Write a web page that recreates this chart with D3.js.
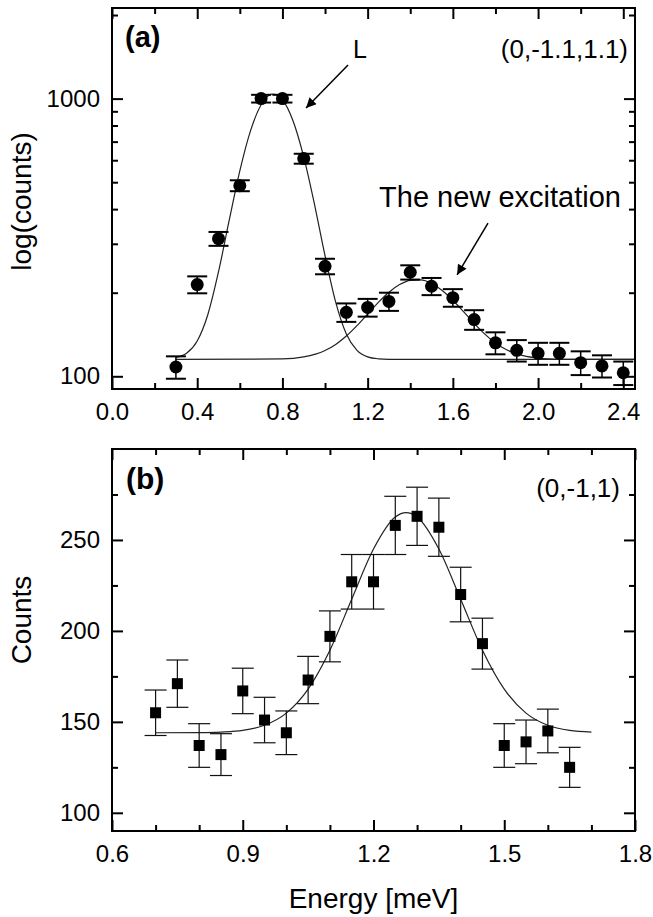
<!DOCTYPE html>
<html><head><meta charset="utf-8">
<script src="https://cdn.jsdelivr.net/npm/d3@7"></script>
<style>body{margin:0;background:#fff} svg text{font-family:"Liberation Sans",Arial,Helvetica,sans-serif;fill:#000}</style>
</head><body><svg id="c" width="653" height="917"></svg>
<script>
// ---------- Panel (a) data ----------
const energyA = [0.3,0.4,0.5,0.6,0.7,0.8,0.9,1.0,1.1,1.2,1.3,1.4,1.5,1.6,1.7,1.8,1.9,2.0,2.1,2.2,2.3,2.4];
const countsA = [108,214,313,486,1000,1000,608,249,170,177,186,237,211,192,160,132,124,121,121,112,109,103];
const errA    = [10,15,18,22,32,32,25,16,13,13,14,14,15,14,13,12,11,11,11,11,10,10];
// fit curve L
const fitLx = [0.30,0.35,0.40,0.45,0.50,0.55,0.60,0.65,0.70,0.725,0.75,0.775,0.80,0.85,0.90,0.95,1.00,1.05,1.10,1.15,1.20,1.25,1.30,1.40,2.45];
const fitLy = [117,121,134,167,238,364,549,765,950,1010,1038,1032,992,831,617,418,272,185,142,124,117.5,115.6,115.1,115,115];
// fit curve of the new excitation
const fitNx = [0.30,0.80,0.90,1.00,1.05,1.10,1.15,1.20,1.25,1.30,1.35,1.40,1.45,1.50,1.55,1.60,1.65,1.70,1.75,1.80,1.85,1.90,2.00,2.10,2.20,2.45];
const fitNy = [115,115.5,117.4,123.8,130.2,139.6,152.2,167.6,184.5,200.8,214,221.7,222.4,216,203.8,187.9,171,155.1,141.9,131.8,124.8,120.4,116.3,115.2,115,115];
const xTicksA = [0.0,0.4,0.8,1.2,1.6,2.0,2.4];
const xMinorA = [0.2,0.6,1.0,1.4,1.8,2.2];
const yTicksA = [100,1000];
const yMinorA = [200,300,400,500,600,700,800,900,2000];

// ---------- Panel (b) data ----------
const energyB = [0.70,0.75,0.80,0.85,0.90,0.95,1.00,1.05,1.10,1.15,1.20,1.25,1.30,1.35,1.40,1.45,1.50,1.55,1.60,1.65];
const countsB = [155,171,137,132,167,151,144,173,197,227,227,258,263,257,220,193,137,139,145,125];
const errB    = [12.5,13,12,11.5,12.5,12.5,12,13,14,15,15,16,16,16,15,14,12,12,12,11];
const fitBx = [0.70,0.80,0.85,0.90,0.95,1.00,1.05,1.10,1.15,1.20,1.25,1.275,1.30,1.35,1.40,1.45,1.50,1.55,1.60,1.65,1.70];
const fitBy = [144,144.1,144.4,145.3,148.1,154.8,168.0,189.4,217.4,245.0,262.6,265,262.6,245.0,217.4,189.4,168.0,154.8,148.1,145.3,144.4];
const xTicksB = [0.6,0.9,1.2,1.5,1.8];
const xMinorB = [0.7,0.8,1.0,1.1,1.3,1.4,1.6,1.7];
const yTicksB = [100,150,200,250];
const yMinorB = [125,175,225,275];

const svg = d3.select("#c");
const FONT_TICK = 24, FONT_TITLE = 28;

// scales
const boxA = {l:112, r:635, t:8, b:389};
const boxB = {l:112, r:635, t:449, b:831};
const xA = d3.scaleLinear().domain([0, 2.455]).range([boxA.l, boxA.r]);
const yA = d3.scaleLog().domain([90, 2120]).range([boxA.b, boxA.t]);
const xB = d3.scaleLinear().domain([0.6, 1.8]).range([boxB.l, boxB.r]);
const yB = d3.scaleLinear().domain([90, 300]).range([boxB.b, boxB.t]);

function styleAxis(g){
  g.select(".domain").remove();
  g.selectAll(".tick line").attr("stroke","#000").attr("stroke-width",2);
  g.selectAll(".tick text").attr("font-size",FONT_TICK).attr("font-family",null);
}
function drawAxes(box, x, y, xMaj, xMin, yMaj, yMin, xFmt, yFmt){
  const MAJ = 11, MIN = 6;
  svg.append("g").attr("transform",`translate(0,${box.b})`)
    .call(d3.axisBottom(x).tickValues(xMaj).tickSize(-MAJ).tickPadding(14).tickFormat(xFmt)).call(styleAxis);
  svg.append("g").attr("transform",`translate(0,${box.b})`)
    .call(d3.axisBottom(x).tickValues(xMin).tickSize(-MIN).tickFormat("")).call(styleAxis);
  svg.append("g").attr("transform",`translate(0,${box.t})`)
    .call(d3.axisTop(x).tickValues(xMaj).tickSize(-MAJ).tickFormat("")).call(styleAxis);
  svg.append("g").attr("transform",`translate(0,${box.t})`)
    .call(d3.axisTop(x).tickValues(xMin).tickSize(-MIN).tickFormat("")).call(styleAxis);
  svg.append("g").attr("transform",`translate(${box.l},0)`)
    .call(d3.axisLeft(y).tickValues(yMaj).tickSize(-MAJ).tickPadding(12).tickFormat(yFmt)).call(styleAxis);
  svg.append("g").attr("transform",`translate(${box.l},0)`)
    .call(d3.axisLeft(y).tickValues(yMin).tickSize(-MIN).tickFormat("")).call(styleAxis);
  svg.append("g").attr("transform",`translate(${box.r},0)`)
    .call(d3.axisRight(y).tickValues(yMaj).tickSize(-MAJ).tickFormat("")).call(styleAxis);
  svg.append("g").attr("transform",`translate(${box.r},0)`)
    .call(d3.axisRight(y).tickValues(yMin).tickSize(-MIN).tickFormat("")).call(styleAxis);
  svg.append("rect").attr("x",box.l).attr("y",box.t).attr("width",box.r-box.l).attr("height",box.b-box.t)
    .attr("fill","none").attr("stroke","#000").attr("stroke-width",2);
}

// ---------- Panel (a) ----------
drawAxes(boxA, xA, yA, xTicksA, xMinorA, yTicksA, yMinorA, d3.format(".1f"), d3.format("d"));
const lineA = d3.line().x(d=>xA(d[0])).y(d=>yA(d[1])).curve(d3.curveMonotoneX);
svg.append("path").attr("d", lineA(d3.zip(fitLx, fitLy))).attr("fill","none").attr("stroke","#222").attr("stroke-width",1.2);
svg.append("path").attr("d", lineA(d3.zip(fitNx, fitNy))).attr("fill","none").attr("stroke","#222").attr("stroke-width",1.2);
const gA = svg.append("g");
energyA.forEach((e,i)=>{
  const cx = xA(e), v = countsA[i], er = errA[i];
  gA.append("line").attr("x1",cx).attr("x2",cx).attr("y1",yA(v-er)).attr("y2",yA(v+er)).attr("stroke","#000").attr("stroke-width",1.5);
  [v-er, v+er].forEach(w=>gA.append("line").attr("x1",cx-10).attr("x2",cx+10).attr("y1",yA(w)).attr("y2",yA(w)).attr("stroke","#000").attr("stroke-width",2));
  gA.append("circle").attr("cx",cx).attr("cy",yA(v)).attr("r",6.5).attr("fill","#000");
});

// arrows
const defs = svg.append("defs");
defs.append("marker").attr("id","arr").attr("viewBox","0 0 10 10").attr("refX",10).attr("refY",5)
  .attr("markerWidth",14).attr("markerHeight",10).attr("markerUnits","userSpaceOnUse").attr("orient","auto")
  .append("path").attr("d","M0,0 L10,5 L0,10 z").attr("fill","#000");
const arrowsA = [ {x1:1.108, y1:1321, x2:0.911, y2:925}, {x1:1.765, y1:356, x2:1.620, y2:232} ];
arrowsA.forEach(a=>svg.append("line").attr("x1",xA(a.x1)).attr("y1",yA(a.y1)).attr("x2",xA(a.x2)).attr("y2",yA(a.y2))
  .attr("stroke","#000").attr("stroke-width",1.5).attr("marker-end","url(#arr)"));

svg.append("text").attr("x",boxA.l+13).attr("y",boxA.t+39).attr("font-size",29).attr("font-weight","bold").text("(a)");
svg.append("text").attr("x",boxA.r-7).attr("y",boxA.t+50).attr("font-size",26).attr("text-anchor","end").text("(0,-1.1,1.1)");
svg.append("text").attr("x",353).attr("y",58).attr("font-size",25).text("L");
svg.append("text").attr("x",500).attr("y",207).attr("font-size",29).attr("text-anchor","middle").text("The new excitation");
svg.append("text").attr("transform",`translate(31,${(boxA.t+boxA.b)/2+3}) rotate(-90)`).attr("text-anchor","middle")
  .attr("font-size",FONT_TITLE).text("log(counts)");

// ---------- Panel (b) ----------
drawAxes(boxB, xB, yB, xTicksB, xMinorB, yTicksB, yMinorB, d3.format(".1f"), d3.format("d"));
const lineB = d3.line().x(d=>xB(d[0])).y(d=>yB(d[1])).curve(d3.curveMonotoneX);
svg.append("path").attr("d", lineB(d3.zip(fitBx, fitBy))).attr("fill","none").attr("stroke","#222").attr("stroke-width",1.2);
const gB = svg.append("g");
energyB.forEach((e,i)=>{
  const cx = xB(e), v = countsB[i], er = errB[i];
  gB.append("line").attr("x1",cx).attr("x2",cx).attr("y1",yB(v-er)).attr("y2",yB(v+er)).attr("stroke","#111").attr("stroke-width",1.2);
  [v-er, v+er].forEach(w=>gB.append("line").attr("x1",cx-11).attr("x2",cx+11).attr("y1",yB(w)).attr("y2",yB(w)).attr("stroke","#111").attr("stroke-width",1.2));
  gB.append("rect").attr("x",cx-5.5).attr("y",yB(v)-5.5).attr("width",11).attr("height",11).attr("fill","#000");
});
svg.append("text").attr("x",boxB.l+14).attr("y",489).attr("font-size",30).attr("font-weight","bold").text("(b)");
svg.append("text").attr("x",620).attr("y",497).attr("font-size",26).attr("text-anchor","end").text("(0,-1,1)");
svg.append("text").attr("transform",`translate(31,620) rotate(-90)`).attr("text-anchor","middle")
  .attr("font-size",FONT_TITLE).text("Counts");
svg.append("text").attr("x",(boxB.l+boxB.r)/2).attr("y",908).attr("text-anchor","middle")
  .attr("font-size",FONT_TITLE).text("Energy [meV]");
</script></body></html>
